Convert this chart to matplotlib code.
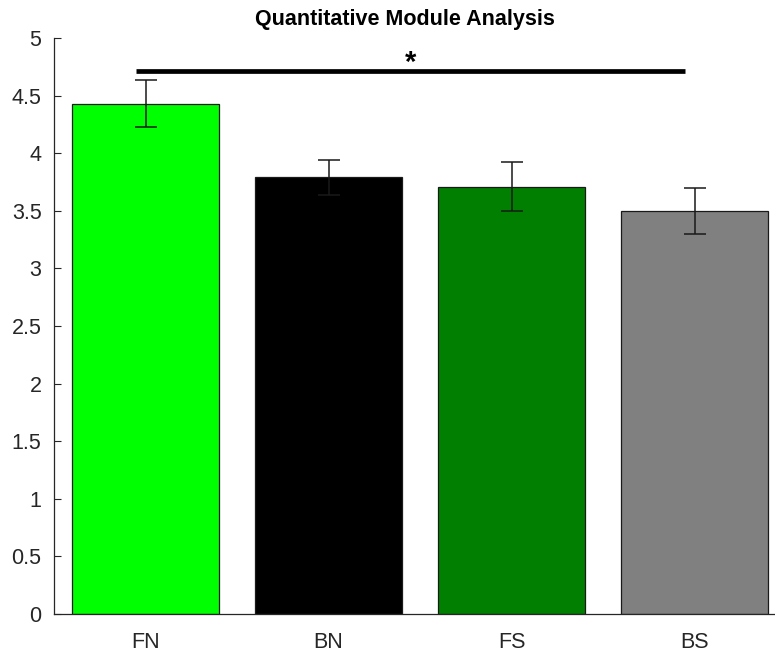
import matplotlib
matplotlib.use("Agg")
import matplotlib.pyplot as plt
import numpy as np

categories = ["FN", "BN", "FS", "BS"]
means = [4.43, 3.79, 3.71, 3.50]
errors = [0.205, 0.15, 0.215, 0.20]
colors = ["#00ff00", "#000000", "#007f00", "#808080"]
yticks = [0, 0.5, 1, 1.5, 2, 2.5, 3, 3.5, 4, 4.5, 5]
ytick_labels = ["0", "0.5", "1", "1.5", "2", "2.5", "3", "3.5", "4", "4.5", "5"]
sig_span = [0.95, 3.95]
sig_level = 4.71
title = "Quantitative Module Analysis"

plt.rcParams['font.family'] = ['Liberation Sans', 'DejaVu Sans']
W, H = 775, 653
fig = plt.figure(figsize=(W / 100, H / 100), dpi=100)
left = 54 / W
width = (183 * 4) / W
bottom = (H - 614) / H
height = (614 - 38) / H
ax = fig.add_axes([left, bottom, width, height])

x = np.arange(1, len(categories) + 1)
ax.bar(x, means, width=0.8, color=colors, edgecolor="#1a1a1a", linewidth=0.9, zorder=2)
ax.errorbar(x, means, yerr=errors, fmt="none", ecolor="#1a1a1a", elinewidth=1.1,
            capsize=8, capthick=1.1, zorder=3)

ax.plot(sig_span, [sig_level, sig_level], color="black", linewidth=3.4,
        solid_capstyle="butt", zorder=4)
ax.text(np.mean(sig_span), sig_level, "*", ha="center", va="baseline",
        fontsize=21, fontweight="bold", color="black", zorder=5)

ax.set_xlim(0.5, 4.5)
ax.set_ylim(0, 5)
ax.set_xticks(x)
ax.set_xticklabels(categories)
ax.set_yticks(yticks)
ax.set_yticklabels(ytick_labels)

for s in ["top", "right"]:
    ax.spines[s].set_visible(False)
for s in ["left", "bottom"]:
    ax.spines[s].set_color("#262626")
    ax.spines[s].set_linewidth(0.9)

ax.tick_params(axis="both", direction="in", length=5, width=0.8, colors="#262626",
               labelcolor="#262626")
ax.tick_params(axis="x", pad=13, labelsize=15.5)
ax.tick_params(axis="y", pad=9, labelsize=15.5)

ax.text(0.48, 1.0 + 18 / 576, title, transform=ax.transAxes, ha="center",
        va="center", fontsize=15.5, fontweight="bold", color="black")

fig.savefig("out.png", dpi=100)
